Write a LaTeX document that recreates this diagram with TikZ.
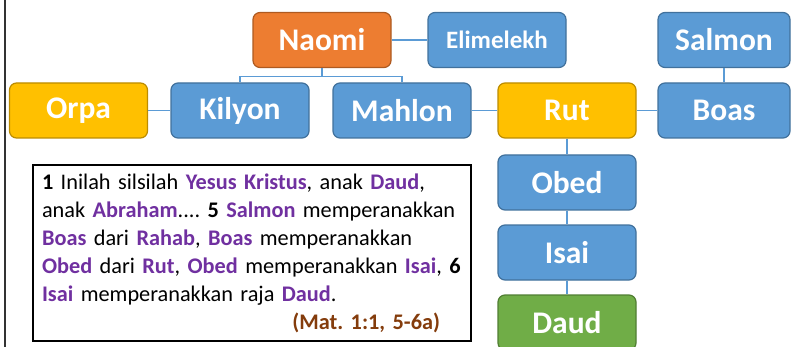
\documentclass[tikz,border=0pt]{standalone}
\usepackage{fontspec}
\setmainfont{Carlito}
\usepackage{xcolor}
\usetikzlibrary{positioning,calc}

\definecolor{boxblue}{HTML}{5B9BD5}
\definecolor{lineblue}{HTML}{41719C}
\definecolor{boxorange}{HTML}{ED7D31}
\definecolor{lineorange}{HTML}{AE5A21}
\definecolor{boxyellow}{HTML}{FFC000}
\definecolor{lineyellow}{HTML}{BC8C00}
\definecolor{boxgreen}{HTML}{70AD47}
\definecolor{linegreen}{HTML}{507E32}
\definecolor{namepurple}{HTML}{7030A0}
\definecolor{refbrown}{HTML}{843C0C}

\newcommand{\tokoh}[1]{\textbf{\textcolor{namepurple}{#1}}}
\newcommand{\ayat}[1]{\textbf{#1}}

\tikzset{
  person/.style={rectangle, rounded corners=7pt, line width=1.2pt,
    minimum width=138pt, minimum height=55pt, inner sep=0pt, text=white,
    font=\fontsize{31.5}{36}\selectfont\bfseries},
  blueperson/.style={person, fill=boxblue, draw=lineblue},
  orangeperson/.style={person, fill=boxorange, draw=lineorange},
  yellowperson/.style={person, fill=boxyellow, draw=lineyellow},
  greenperson/.style={person, fill=boxgreen, draw=linegreen},
  kin/.style={draw=boxblue, line width=1.5pt}
}

\begin{document}
\frenchspacing
\begin{tikzpicture}[x=1pt,y=1pt,on grid]
  \useasboundingbox (0,0) rectangle (791,-347);
  \draw[line width=1.5pt, black!80] (5,0) -- (5,-347);

  \node[orangeperson] (naomi) at (322,-40) {Naomi};
  \node[blueperson, font=\fontsize{25}{30}\selectfont\bfseries] (elimelekh) [right=175pt of naomi] {Elimelekh};
  \node[blueperson] (kilyon) [below left=70.5pt and 82pt of naomi] {Kilyon};
  \node[yellowperson] (orpa) [left=161.5pt of kilyon] {Orpa};
  \node[blueperson] (mahlon) [right=162pt of kilyon] {Mahlon};
  \node[yellowperson] (rut) [right=165pt of mahlon] {Rut};
  \node[blueperson, minimum width=132pt] (boas) [right=157pt of rut] {Boas};
  \node[blueperson, minimum width=132pt] (salmon) [above=70.5pt of boas] {Salmon};
  \node[blueperson] (obed) [below=72pt of rut] {Obed};
  \node[blueperson] (isai) [below=70pt of obed] {Isai};
  \node[greenperson] (daud) [below=70pt of isai] {Daud};

  \coordinate[below=8.5pt of naomi.south] (fork);
  \path[kin]
    (naomi) edge (elimelekh)
    (orpa) edge (kilyon)
    (mahlon) edge (rut)
    (rut) edge (boas)
    (salmon) edge (boas)
    (rut) edge (obed)
    (obed) edge (isai)
    (isai) edge (daud);
  \draw[kin] (naomi.south) -- (fork) -| (kilyon.north);
  \draw[kin] (fork) -| (mahlon.north);

  \node[draw, line width=1.2pt, align=left, text width=420pt, inner xsep=9pt,
        minimum height=176pt, font=\fontsize{22.3}{28}\selectfont] (kutipan) at (252,-253)
    {\ayat{1} Inilah silsilah \tokoh{Yesus Kristus}, anak \tokoh{Daud},\\
     anak \tokoh{Abraham}.... \ayat{5} \tokoh{Salmon} memperanakkan\\
     \tokoh{Boas} dari \tokoh{Rahab}, \tokoh{Boas} memperanakkan\\
     \tokoh{Obed} dari \tokoh{Rut}, \tokoh{Obed} memperanakkan \tokoh{Isai}, \ayat{6}\\
     \tokoh{Isai} memperanakkan raja \tokoh{Daud}.\\
     \hfill\textbf{\textcolor{refbrown}{(Mat. 1:1, 5-6a)}}\rule{22pt}{0pt}};
\end{tikzpicture}
\end{document}
